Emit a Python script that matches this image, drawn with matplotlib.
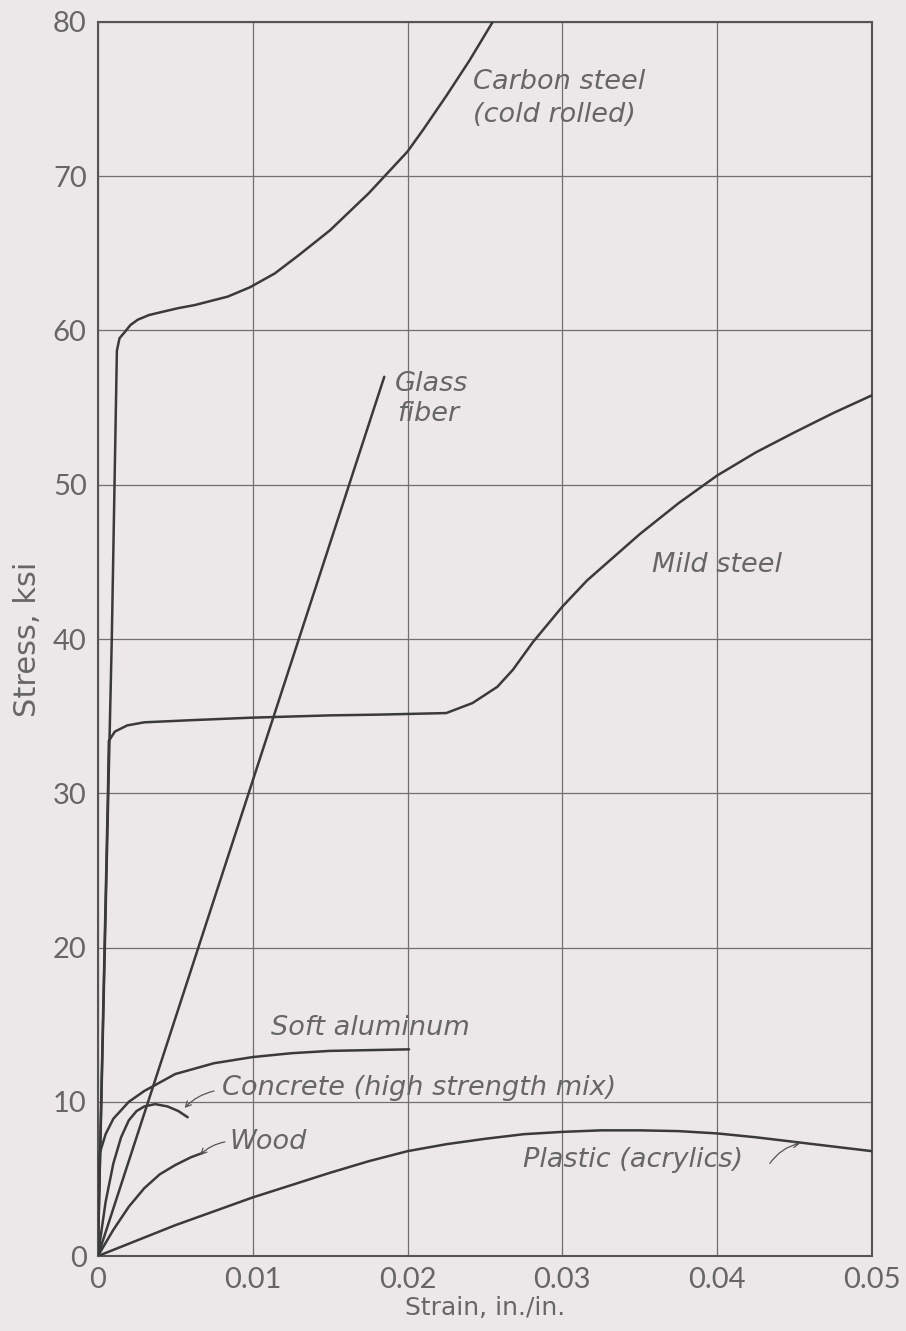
import numpy as np
import matplotlib.pyplot as plt

# stress-strain curves, strain in in./in., stress in ksi
carbon_strain = [0, 0.0009, 0.00123, 0.0014, 0.00174, 0.0021, 0.00258, 0.0033, 0.00413, 0.0052, 0.00627, 0.0084,
                 0.00982, 0.01143, 0.013, 0.015, 0.0175, 0.02, 0.021, 0.0225, 0.024, 0.0255]
carbon_stress = [0, 40, 58.7, 59.5, 59.9, 60.35, 60.7, 61.0, 61.2, 61.45, 61.65, 62.2,
                 62.8, 63.7, 64.9, 66.5, 68.9, 71.6, 73.0, 75.2, 77.5, 80.0]

mild_strain = [0, 0.00065, 0.00071, 0.0011, 0.0019, 0.003, 0.0063, 0.0099, 0.015, 0.0182, 0.0225, 0.0242,
               0.0258, 0.0268, 0.0281, 0.03, 0.0316, 0.035, 0.0375, 0.04, 0.0425, 0.045, 0.0475, 0.05]
mild_stress = [0, 30, 33.4, 34.0, 34.4, 34.6, 34.75, 34.9, 35.05, 35.1, 35.2, 35.85,
               36.9, 38.0, 39.8, 42.1, 43.8, 46.8, 48.8, 50.6, 52.1, 53.4, 54.65, 55.8]

glass_strain = [0, 0.0185]
glass_stress = [0, 57]

alum_strain = [0, 0.0001, 0.0005, 0.001, 0.002, 0.003, 0.005, 0.0075, 0.01, 0.0125, 0.015, 0.0175, 0.0201]
alum_stress = [0, 6.6, 7.9, 8.9, 10.0, 10.7, 11.8, 12.5, 12.9, 13.15, 13.3, 13.35, 13.4]

concrete_strain = [0, 0.0005, 0.001, 0.0015, 0.002, 0.0025, 0.003, 0.0037, 0.0045, 0.0052, 0.0058]
concrete_stress = [0, 3.5, 6.0, 7.7, 8.8, 9.4, 9.7, 9.85, 9.7, 9.4, 9.0]

wood_strain = [0, 0.001, 0.002, 0.003, 0.004, 0.005, 0.006, 0.0068]
wood_stress = [0, 1.7, 3.2, 4.4, 5.3, 5.9, 6.4, 6.7]

plastic_strain = [0, 0.0025, 0.005, 0.0075, 0.01, 0.0125, 0.015, 0.0175, 0.02, 0.0225, 0.025, 0.0275,
                  0.03, 0.0325, 0.035, 0.0375, 0.04, 0.0425, 0.045, 0.0475, 0.05]
plastic_stress = [0, 1.0, 2.0, 2.9, 3.8, 4.6, 5.4, 6.15, 6.8, 7.25, 7.6, 7.9,
                  8.05, 8.15, 8.15, 8.1, 7.95, 7.7, 7.4, 7.1, 6.8]

x_ticks = [0, 0.01, 0.02, 0.03, 0.04, 0.05]
x_labels = ['0', '0.01', '0.02', '0.03', '0.04', '0.05']
y_ticks = [0, 10, 20, 30, 40, 50, 60, 70, 80]

bg = '#ece8e9'
ink = '#3a3a3a'
grid_c = '#707070'
txt_c = '#666666'

plt.rcParams['font.family'] = ['Lato', 'DejaVu Sans']

fig = plt.figure(figsize=(9.06, 13.31), dpi=100, facecolor=bg)
ax = fig.add_axes([0.108, 0.0563, 0.8545, 0.9272], facecolor=bg)

curves = [
    (carbon_strain, carbon_stress),
    (mild_strain, mild_stress),
    (glass_strain, glass_stress),
    (alum_strain, alum_stress),
    (concrete_strain, concrete_stress),
    (wood_strain, wood_stress),
    (plastic_strain, plastic_stress),
]
for sx, sy in curves:
    ax.plot(sx, sy, color=ink, linewidth=1.8, solid_capstyle='round',
            solid_joinstyle='round', zorder=3)

ax.set_xlim(0, 0.05)
ax.set_ylim(0, 80)
ax.set_xticks(x_ticks)
ax.set_xticklabels(x_labels)
ax.set_yticks(y_ticks)
ax.grid(True, color=grid_c, linewidth=0.9)
ax.tick_params(length=0, labelsize=21, colors=txt_c, pad=8)
for s in ax.spines.values():
    s.set_color('#555555')
    s.set_linewidth(1.5)

ax.set_xlabel('Strain, in./in.', family='DejaVu Sans', fontsize=18, color=txt_c, labelpad=2)
ax.set_ylabel('Stress, ksi', family='DejaVu Sans', fontsize=22, color=txt_c, labelpad=8)

lab = dict(family='DejaVu Sans', fontsize=19.5, style='italic', color=txt_c,
           ha='left', va='center', zorder=4)
ax.text(0.0242, 76.1, 'Carbon steel', **lab)
ax.text(0.0242, 74.0, '(cold rolled)', **lab)
ax.text(0.0192, 56.5, 'Glass', **lab)
ax.text(0.0193, 54.6, 'fiber', **lab)
ax.text(0.0358, 44.8, 'Mild steel', **lab)
ax.text(0.0112, 14.8, 'Soft aluminum', **lab)
ax.text(0.0080, 10.9, 'Concrete (high strength mix)', **lab)
ax.text(0.0085, 7.4, 'Wood', **lab)
ax.text(0.02745, 6.2, 'Plastic (acrylics)', **lab)

arr = dict(arrowstyle='->', color='#555555', lw=0.9, shrinkA=0, shrinkB=0)
ax.annotate('', xy=(0.0056, 9.6), xytext=(0.0075, 10.7),
            arrowprops=dict(connectionstyle='arc3,rad=0.15', **arr))
ax.annotate('', xy=(0.0066, 6.55), xytext=(0.0082, 7.4),
            arrowprops=dict(connectionstyle='arc3,rad=0.15', **arr))
ax.annotate('', xy=(0.04535, 7.3), xytext=(0.0434, 6.0),
            arrowprops=dict(connectionstyle='arc3,rad=-0.2', **arr))

fig.savefig('out.png', dpi=100, facecolor=bg)
